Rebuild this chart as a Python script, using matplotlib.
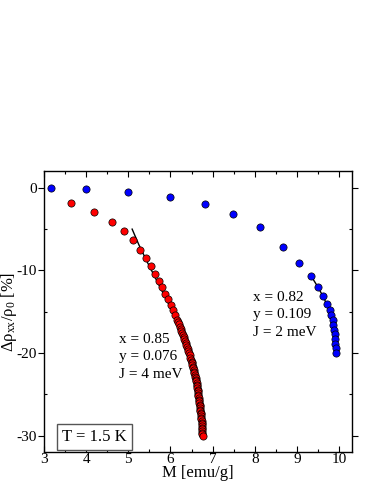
import matplotlib
matplotlib.use("Agg")
import matplotlib.pyplot as plt
from matplotlib.ticker import MultipleLocator

plt.rcParams['font.family'] = ['Liberation Serif', 'DejaVu Serif']
plt.rcParams['mathtext.fontset'] = 'custom'
plt.rcParams['mathtext.rm'] = 'Liberation Serif'
plt.rcParams['mathtext.it'] = 'Liberation Serif:italic'
plt.rcParams['axes.unicode_minus'] = False

# Data
red_M = [3.63, 4.19, 4.61, 4.90, 5.10, 5.27, 5.41, 5.53, 5.64, 5.73, 5.81, 5.88,
         5.95, 6.01, 6.06, 6.11, 6.16,
         6.18, 6.20, 6.22, 6.24, 6.255, 6.27, 6.29, 6.31, 6.325, 6.34, 6.36, 6.375,
         6.39, 6.41, 6.425, 6.44, 6.455, 6.47, 6.485, 6.50, 6.51, 6.52, 6.53, 6.54,
         6.55, 6.56, 6.57, 6.58, 6.59, 6.595, 6.60, 6.61, 6.62, 6.625, 6.63, 6.64,
         6.645, 6.65, 6.655, 6.66, 6.665, 6.67, 6.675, 6.68, 6.685, 6.69, 6.695,
         6.70, 6.705, 6.71, 6.715, 6.72, 6.725, 6.73, 6.735, 6.74, 6.74, 6.745,
         6.745, 6.75, 6.75, 6.755, 6.755, 6.76, 6.77]
red_rho = [-1.85, -2.95, -4.08, -5.23, -6.34, -7.48, -8.49, -9.50, -10.40, -11.24,
           -12.05, -12.80, -13.50, -14.20, -14.85, -15.45, -16.05,
           -16.30, -16.55, -16.80, -17.05, -17.30, -17.55, -17.80, -18.05, -18.30,
           -18.55, -18.80, -19.05, -19.30, -19.55, -19.80, -20.05, -20.30, -20.55,
           -20.80, -21.05, -21.25, -21.45, -21.65, -21.85, -22.05, -22.25, -22.45,
           -22.65, -22.85, -23.05, -23.25, -23.45, -23.65, -23.85, -24.05, -24.25,
           -24.45, -24.65, -24.85, -25.05, -25.25, -25.45, -25.65, -25.85, -26.05,
           -26.25, -26.45, -26.65, -26.85, -27.05, -27.25, -27.45, -27.65, -27.85,
           -28.05, -28.25, -28.45, -28.65, -28.85, -29.05, -29.25, -29.45, -29.65,
           -29.85, -30.10]

blue_M = [3.17, 3.99, 4.98, 5.98, 6.83, 7.48, 8.12, 8.68, 9.05, 9.33, 9.51, 9.63,
          9.72, 9.78, 9.81, 9.85, 9.86, 9.88, 9.90, 9.91, 9.91, 9.92, 9.93]
blue_rho = [0.0, -0.12, -0.48, -1.05, -1.90, -3.15, -4.76, -7.15, -9.10, -10.70,
            -12.00, -13.06, -14.03, -14.75, -15.40, -16.05, -16.60, -17.20, -17.70,
            -18.30, -18.90, -19.40, -19.95]

red_fit_M = [5.09, 5.25, 5.45, 5.65, 5.85, 6.05, 6.25, 6.43, 6.58, 6.67, 6.73, 6.77]
red_fit_rho = [-5.0, -6.9, -9.0, -11.0, -13.0, -15.0, -17.2, -19.5, -22.0, -24.6, -27.3, -29.8]

blue_fit_M = [9.33, 9.50, 9.65, 9.76, 9.84, 9.89, 9.92]
blue_fit_rho = [-10.6, -12.0, -13.4, -14.8, -16.3, -17.9, -19.8]

fig = plt.figure(figsize=(3.74, 4.84), dpi=100)
ax = fig.add_axes([0.118, 0.066, 0.822, 0.580])

ax.plot(red_fit_M, red_fit_rho, color='black', lw=1.0, zorder=2)
ax.plot(blue_fit_M, blue_fit_rho, color='black', lw=1.0, zorder=2)
ax.plot(red_M, red_rho, 'o', color='#ff0000', mec='black', mew=0.5, ms=5.2, zorder=3)
ax.plot(blue_M, blue_rho, 'o', color='#0000ff', mec='black', mew=0.5, ms=5.2, zorder=3)

ax.set_xlim(3, 10.3)
ax.set_ylim(-32, 2)
ax.xaxis.set_major_locator(MultipleLocator(1))
ax.xaxis.set_minor_locator(MultipleLocator(0.5))
ax.yaxis.set_major_locator(MultipleLocator(10))
ax.yaxis.set_minor_locator(MultipleLocator(5))

ax.tick_params(axis='both', which='both', top=True, right=True, direction='in',
               labelsize=11, width=0.8)
ax.tick_params(axis='both', which='major', length=4)
ax.tick_params(axis='both', which='minor', length=2.5)
ax.tick_params(axis='y', which='major', left=True, direction='out', pad=1)
ax.tick_params(axis='x', which='major', pad=1)
for s in ax.spines.values():
    s.set_linewidth(1.0)

ax.set_xlabel('M [emu/g]', fontsize=12, labelpad=-1)
ax.set_ylabel(r'$\mathregular{Δρ_{xx}/ρ_0}$ [%]', fontsize=12)
ax.yaxis.set_label_coords(-0.082, 0.5)

ax.text(0.243, 0.425, 'x = 0.85\ny = 0.076\nJ = 4 meV', transform=ax.transAxes,
        fontsize=11, va='top', ha='left', linespacing=1.45)
ax.text(0.680, 0.575, 'x = 0.82\ny = 0.109\nJ = 2 meV', transform=ax.transAxes,
        fontsize=11, va='top', ha='left', linespacing=1.45)

ax.text(0.165, 0.055, 'T = 1.5 K', transform=ax.transAxes, fontsize=12,
        ha='center', va='center',
        bbox=dict(boxstyle='square,pad=0.3', fc='white', ec='#555555', lw=1.0))

fig.savefig('out.png', dpi=100)
